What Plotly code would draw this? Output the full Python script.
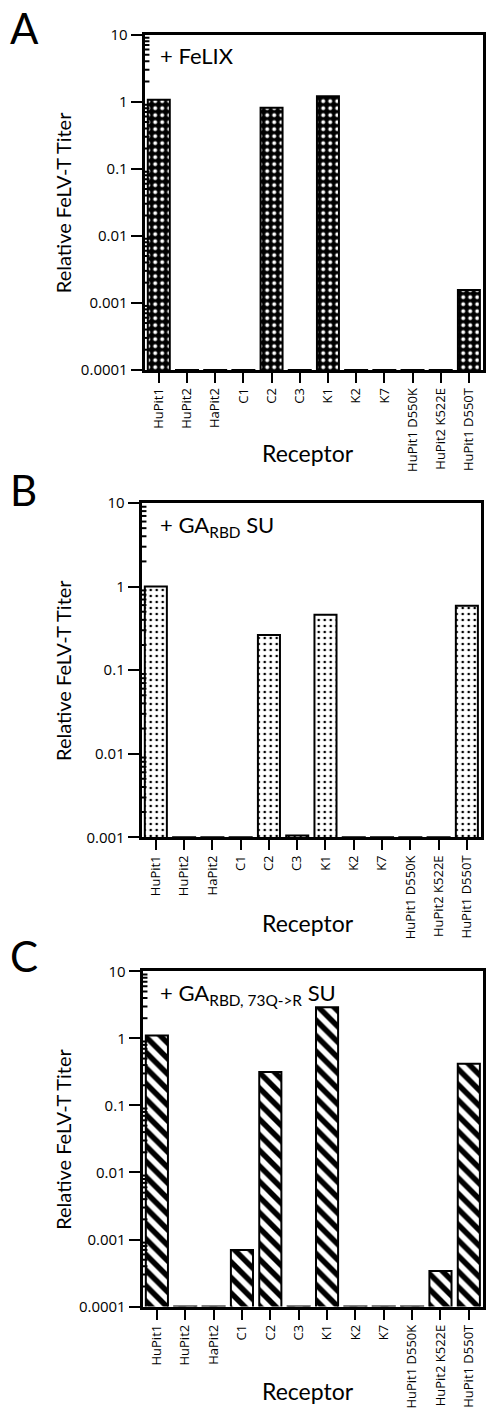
import plotly.graph_objects as go

receptors = ["HuPit1", "HuPit2", "HaPit2", "C1", "C2", "C3", "K1", "K2", "K7",
             "HuPit1 D550K", "HuPit2 K522E", "HuPit1 D550T"]
titer_felix = [1.07, 0.0001, 0.0001, 0.0001, 0.81, 0.0001, 1.21, 0.0001, 0.0001, 0.0001, 0.0001, 0.00155]
titer_garbd = [1.0, 0.001, 0.001, 0.001, 0.263, 0.00105, 0.46, 0.001, 0.001, 0.001, 0.001, 0.59]
titer_garbd_73 = [1.1, 0.0001, 0.0001, 0.0007, 0.316, 0.0001, 2.92, 0.0001, 0.0001, 0.0001, 0.00034, 0.42]

ytick_vals_A = [0.0001, 0.001, 0.01, 0.1, 1, 10]
ytick_text_A = ["0.0001", "0.001", "0.01", "0.1", "1", "10"]
ytick_vals_B = [0.001, 0.01, 0.1, 1, 10]
ytick_text_B = ["0.001", "0.01", "0.1", "1", "10"]
minor_A = [m * d for d in [0.0001, 0.001, 0.01, 0.1, 1] for m in range(2, 10)]
minor_B = [m * d for d in [0.001, 0.01, 0.1, 1] for m in range(2, 10)]

FONT = "Lato"
TICKFONT = "Open Sans"
W, H = 486, 1427

fig = go.Figure()

patterns = [
    dict(shape=".", fgcolor="white", bgcolor="black", size=7, solidity=0.25, fillmode="replace"),
    dict(shape=".", fgcolor="black", bgcolor="white", size=6, solidity=0.15, fillmode="replace"),
    dict(shape="\\", fgcolor="black", bgcolor="white", size=11, solidity=0.5, fillmode="replace"),
]
series = [titer_felix, titer_garbd, titer_garbd_73]
for i, (vals, pat) in enumerate(zip(series, patterns)):
    sfx = "" if i == 0 else str(i + 1)
    fig.add_trace(go.Bar(
        x=receptors, y=vals, xaxis="x" + sfx, yaxis="y" + sfx,
        marker=dict(color="white", pattern=pat, line=dict(color="black", width=2)),
        showlegend=False,
    ))

# panel pixel boxes: (left, right, top, bottom)
boxes = [(145, 484, 24, 364), (142, 482, 499, 838), (143, 484, 974, 1314)]
ranges = [[-4, 1], [-3, 1], [-4, 1]]
ticks = [(ytick_vals_A, ytick_text_A, minor_A), (ytick_vals_B, ytick_text_B, minor_B),
         (ytick_vals_A, ytick_text_A, minor_A)]

layout = dict(
    width=W, height=H, margin=dict(l=0, r=0, t=0, b=0),
    paper_bgcolor="white", plot_bgcolor="white",
    font=dict(family=FONT, color="black"),
    bargap=0.22,
)
shapes = []
for i, ((l, r, t, b), rng, (tv, tt, mv)) in enumerate(zip(boxes, ranges, ticks)):
    sfx = "" if i == 0 else str(i + 1)
    layout["xaxis" + sfx] = dict(
        domain=[l / W, r / W], anchor="y" + sfx, type="category",
        range=[-0.5, 11.5], showgrid=False, zeroline=False,
        showline=True, linecolor="black", linewidth=3, mirror=True,
        ticks="outside", ticklen=10, tickwidth=2, tickcolor="black",
        tickangle=-90, tickfont=dict(size=13, family=TICKFONT),
    )
    layout["yaxis" + sfx] = dict(
        domain=[1 - b / H, 1 - t / H], anchor="x" + sfx, type="log",
        range=rng, showgrid=False, zeroline=False,
        showline=True, linecolor="black", linewidth=3, mirror=True,
        ticks="outside", ticklen=11, tickwidth=2, tickcolor="black",
        tickvals=tv, ticktext=tt, tickfont=dict(size=15, family=TICKFONT),
    )
    # minor (dotted) log ticks just inside the left axis
    for v in mv:
        shapes.append(dict(type="line", xref=f"x{sfx} domain", yref="y" + sfx,
                           x0=-0.004, x1=0.014, y0=v, y1=v,
                           line=dict(color="black", width=2), layer="above"))
fig.update_layout(**layout)

ann = []
letters = [("A", 17), ("B", 486), ("C", 958)]
for letter, y in letters:
    ann.append(dict(text=letter, x=8 / W, y=1 - y / H, xref="paper", yref="paper",
                    xanchor="left", yanchor="middle", showarrow=False,
                    font=dict(size=42, family=FONT)))
titles = ["+ FeLIX", "+ GA<sub>RBD</sub> SU", "+ GA<sub>RBD, 73Q->R</sub> SU"]
title_y = [45, 522, 997]
for txt, y in zip(titles, title_y):
    ann.append(dict(text=txt, x=158 / W, y=1 - y / H, xref="paper", yref="paper",
                    xanchor="left", yanchor="middle", showarrow=False,
                    font=dict(size=22, family=FONT)))
for (l, r, t, b), ry in zip(boxes, [448, 925, 1400]):
    ann.append(dict(text="Relative FeLV-T Titer", x=63 / W, y=1 - (t + b) / 2 / H,
                    xref="paper", yref="paper", textangle=-90, showarrow=False,
                    xanchor="center", yanchor="middle", font=dict(size=20, family=FONT)))
    ann.append(dict(text="Receptor", x=309 / W, y=1 - ry / H, xref="paper", yref="paper",
                    showarrow=False, xanchor="center", yanchor="middle",
                    font=dict(size=23, family=FONT)))
fig.update_layout(annotations=ann, shapes=shapes)

fig.write_html("out.html", config={"displayModeBar": False},
               post_script="document.body.style.margin='0';document.body.style.overflow='hidden';")
